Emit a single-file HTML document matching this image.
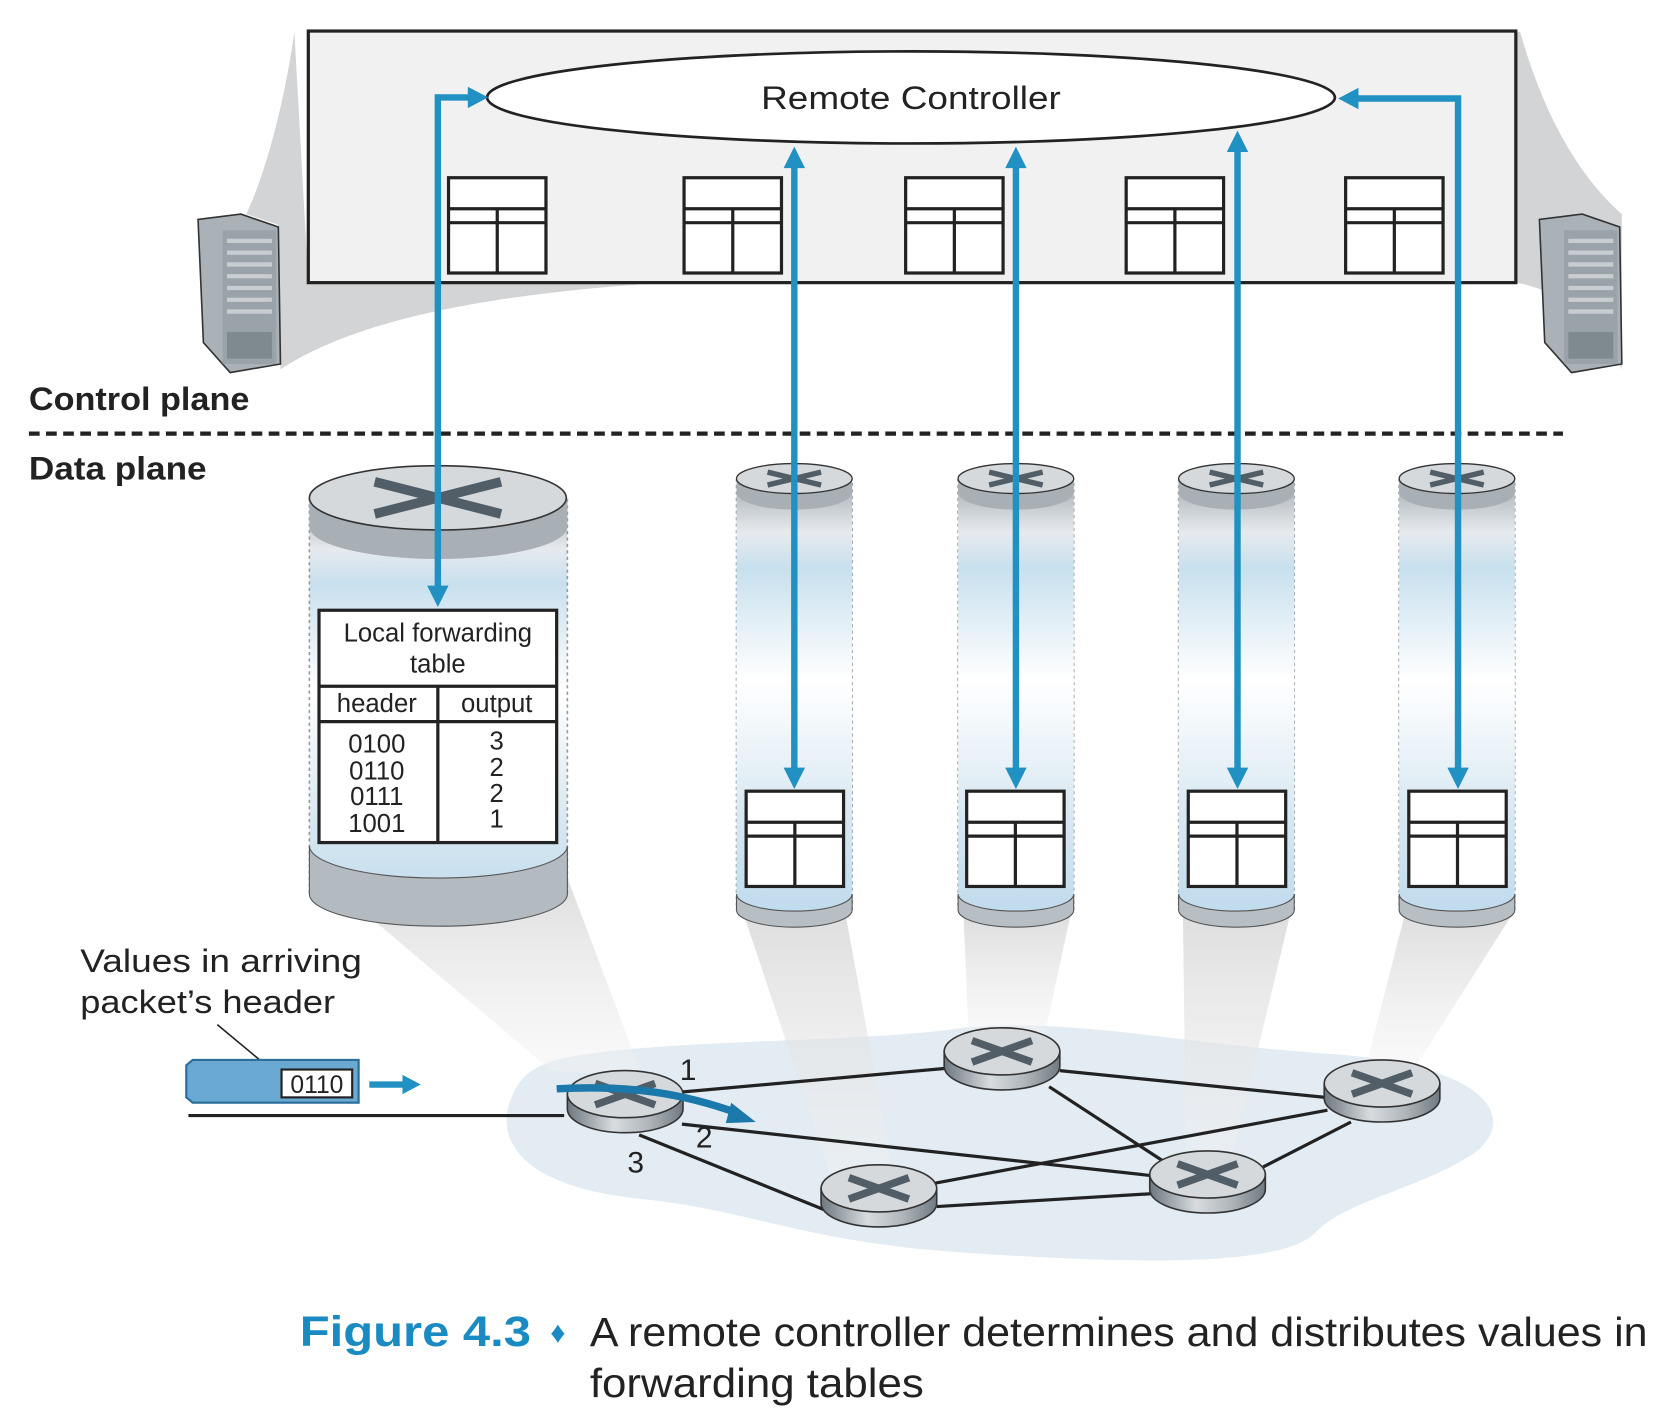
<!DOCTYPE html>
<html><head><meta charset="utf-8"><style>html,body{margin:0;padding:0;background:#fff}svg{display:block}text{font-family:"Liberation Sans",sans-serif}</style></head><body>
<svg width="1670" height="1410" viewBox="0 0 1560 1317" preserveAspectRatio="none" xmlns="http://www.w3.org/2000/svg">
<defs>
<linearGradient id="side" x1="0" x2="1" y1="0" y2="0"><stop offset="0" stop-color="#6e7880"/><stop offset=".4" stop-color="#d8dcdf"/><stop offset=".7" stop-color="#b0b6bb"/><stop offset="1" stop-color="#707a82"/></linearGradient>
<linearGradient id="cyl" x1="0" x2="0" y1="0" y2="1"><stop offset="0" stop-color="#a4abb1"/><stop offset=".12" stop-color="#e6eaee"/><stop offset=".2" stop-color="#c8e0ee"/><stop offset=".45" stop-color="#ffffff"/><stop offset=".75" stop-color="#d8e8f2"/><stop offset="1" stop-color="#bcd9ec"/></linearGradient>
<linearGradient id="beam" x1="0" x2="0" y1="0" y2="1"><stop offset="0" stop-color="#d6d6d6"/><stop offset="1" stop-color="#f2f2f2" stop-opacity=".5"/></linearGradient>
<g id="rt"><path d="M-54,0 L-54,14 A54,22 0 0 0 54,14 L54,0 Z" fill="url(#side)" stroke="#333" stroke-width="1.5"/><ellipse cx="0" cy="0" rx="54" ry="22" fill="#d5d9dc" stroke="#333" stroke-width="1.5"/><g stroke="#515e67" stroke-width="7"><line x1="-28" y1="-10" x2="28" y2="10"/><line x1="-28" y1="10" x2="28" y2="-10"/></g></g>
<g id="tb"><rect x="0" y="0" width="91" height="89" fill="#fff" stroke="#222" stroke-width="3"/><line x1="0" y1="29" x2="91" y2="29" stroke="#222" stroke-width="3"/><line x1="0" y1="42" x2="91" y2="42" stroke="#222" stroke-width="3"/><line x1="45.5" y1="29" x2="45.5" y2="89" stroke="#222" stroke-width="3"/></g>
<g id="sc"><path d="M-54,447 L-54,850 M54,850 L54,447" fill="none" stroke="#999" stroke-width="1.5" stroke-dasharray="3,3"/><path d="M-54,447 L-54,850 A54,16 0 0 0 54,850 L54,447 Z" fill="url(#cyl)"/><path d="M-54,835 L-54,850 A54,16 0 0 0 54,850 L54,835 A54,16 0 0 1 -54,835Z" fill="#b8bfc4" stroke="#555" stroke-width="1"/><path d="M-54,447 L-54,460 A54,16 0 0 0 54,460 L54,447Z" fill="#a8b0b6"/><ellipse cx="0" cy="447" rx="54" ry="14" fill="#d5d9dc" stroke="#333" stroke-width="1.2"/><g stroke="#515e67" stroke-width="5"><line x1="-25" y1="441" x2="25" y2="453"/><line x1="-25" y1="453" x2="25" y2="441"/></g></g>
</defs>
<path d="M275,30 C262,120 240,180 230,200 L260,210 L262,345 C330,300 450,275 620,264 L288,264 Z" fill="#d3d4d6"/>
<path d="M288,264 L1416,264 C1450,270 1490,290 1515,345 L1515,200 C1470,160 1440,100 1420,30 L1416,30 Z" fill="#d3d4d6"/>
<rect x="288" y="29" width="1128" height="235" fill="#f1f1f1" stroke="#222" stroke-width="3"/>
<g><path d="M185,205 L225,200 L260,212 L262,340 L215,348 L190,320 Z" fill="#aab2b8" stroke="#333" stroke-width="1.5"/><rect x="208" y="215" width="50" height="125" fill="#9aa3aa"/><rect x="212" y="310" width="42" height="25" fill="#7f8990"/><g stroke="#c8cdd1" stroke-width="4"><line x1="212" y1="225" x2="254" y2="225"/><line x1="212" y1="236" x2="254" y2="236"/><line x1="212" y1="247" x2="254" y2="247"/><line x1="212" y1="258" x2="254" y2="258"/><line x1="212" y1="269" x2="254" y2="269"/><line x1="212" y1="280" x2="254" y2="280"/><line x1="212" y1="291" x2="254" y2="291"/></g></g>
<g transform="translate(1253,0)"><path d="M185,205 L225,200 L260,212 L262,340 L215,348 L190,320 Z" fill="#aab2b8" stroke="#333" stroke-width="1.5"/><rect x="208" y="215" width="50" height="125" fill="#9aa3aa"/><rect x="212" y="310" width="42" height="25" fill="#7f8990"/><g stroke="#c8cdd1" stroke-width="4"><line x1="212" y1="225" x2="254" y2="225"/><line x1="212" y1="236" x2="254" y2="236"/><line x1="212" y1="247" x2="254" y2="247"/><line x1="212" y1="258" x2="254" y2="258"/><line x1="212" y1="269" x2="254" y2="269"/><line x1="212" y1="280" x2="254" y2="280"/><line x1="212" y1="291" x2="254" y2="291"/></g></g>
<ellipse cx="851" cy="91" rx="396" ry="43" fill="#fff" stroke="#222" stroke-width="2.5"/>
<text x="851" y="102" font-size="30" text-anchor="middle" fill="#222" textLength="280" lengthAdjust="spacingAndGlyphs">Remote Controller</text>
<use href="#tb" x="419" y="166"/><use href="#tb" x="639" y="166"/><use href="#tb" x="846" y="166"/><use href="#tb" x="1052" y="166"/><use href="#tb" x="1257" y="166"/>
<text x="27" y="383" font-size="30" font-weight="bold" fill="#222" textLength="206" lengthAdjust="spacingAndGlyphs">Control plane</text>
<line x1="27" y1="405" x2="1460" y2="405" stroke="#222" stroke-width="4" stroke-dasharray="10,6"/>
<text x="27" y="448" font-size="30" font-weight="bold" fill="#222" textLength="166" lengthAdjust="spacingAndGlyphs">Data plane</text>
<path d="M520,990 C600,970 800,975 900,960 C1000,950 1100,975 1250,985 C1380,995 1420,1040 1380,1075 C1330,1110 1260,1120 1230,1150 C1200,1185 1050,1180 900,1170 C750,1160 700,1130 600,1120 C480,1108 460,1060 480,1020 C490,1000 505,995 520,990Z" fill="#e4ecf3"/>
<path d="M320,835 L530,820 L600,1005 L515,1000 Z" fill="url(#beam)" opacity=".8"/>
<path d="M695,855 L790,855 L835,1100 L775,1095 Z" fill="url(#beam)" opacity=".8"/>
<path d="M900,855 L1000,855 L975,970 L905,968 Z" fill="url(#beam)" opacity=".8"/>
<path d="M1105,855 L1205,855 L1150,1085 L1108,1085 Z" fill="url(#beam)" opacity=".8"/>
<path d="M1312,855 L1412,855 L1320,1000 L1275,1000 Z" fill="url(#beam)" opacity=".8"/>
<path d="M289,465 L289,835 A120,30 0 0 0 530,835 L530,465 Z" fill="url(#cyl)"/>
<path d="M289,465 L289,835 M530,835 L530,465" stroke="#999" stroke-width="1.5" stroke-dasharray="3,3"/>
<path d="M289,790 L289,835 A120,30 0 0 0 530,835 L530,790 A120,30 0 0 1 289,790Z" fill="#b3bac0" stroke="#555" stroke-width="1"/>
<path d="M289,465 L289,492 A120,30 0 0 0 530,492 L530,465Z" fill="#a8b0b6"/>
<ellipse cx="409" cy="465" rx="120" ry="30" fill="#d5d9dc" stroke="#333" stroke-width="1.5"/>
<g stroke="#515e67" stroke-width="9"><line x1="350" y1="450" x2="468" y2="480"/><line x1="350" y1="480" x2="468" y2="450"/></g>
<use href="#sc" x="742"/><use href="#sc" x="949"/><use href="#sc" x="1155"/><use href="#sc" x="1361"/>
<rect x="298" y="570" width="222" height="217" fill="#fff" stroke="#222" stroke-width="3"/>
<line x1="298" y1="641" x2="520" y2="641" stroke="#222" stroke-width="3"/><line x1="298" y1="674" x2="520" y2="674" stroke="#222" stroke-width="3"/><line x1="409" y1="641" x2="409" y2="787" stroke="#222" stroke-width="3"/>
<g font-size="24" fill="#222" text-anchor="middle"><text x="409" y="599">Local forwarding</text><text x="409" y="628">table</text><text x="352" y="665">header</text><text x="464" y="665">output</text>
<text x="352" y="703">0100</text><text x="352" y="728">0110</text><text x="352" y="752">0111</text><text x="352" y="777">1001</text>
<text x="464" y="700">3</text><text x="464" y="725">2</text><text x="464" y="749">2</text><text x="464" y="773">1</text></g>
<use href="#tb" x="697" y="739"/><use href="#tb" x="903" y="739"/><use href="#tb" x="1110" y="739"/><use href="#tb" x="1316" y="739"/>
<g stroke="#2190c2" stroke-width="6" fill="none"><polyline points="409,550 409,91 440,91"/><polyline points="1362,720 1362,92 1266,92"/><line x1="742" y1="152" x2="742" y2="720"/><line x1="949" y1="152" x2="949" y2="720"/><line x1="1156" y1="137" x2="1156" y2="720"/></g>
<g fill="#2190c2"><path d="M456,91 L437,81 L437,101Z"/><path d="M1250,92 L1269,82 L1269,102Z"/><path d="M409,567 L399,547 L419,547Z"/><path d="M1362,737 L1352,717 L1372,717Z"/>
<path d="M742,137 L732,157 L752,157Z"/><path d="M742,737 L732,717 L752,717Z"/><path d="M949,137 L939,157 L959,157Z"/><path d="M949,737 L939,717 L959,717Z"/><path d="M1156,122 L1146,142 L1166,142Z"/><path d="M1156,737 L1146,717 L1166,717Z"/></g>
<g stroke="#222" stroke-width="3"><line x1="176" y1="1042" x2="527" y2="1042"/><line x1="637" y1="1020" x2="882" y2="998"/><line x1="637" y1="1050" x2="1075" y2="1098"/><line x1="597" y1="1060" x2="770" y2="1130"/><line x1="990" y1="1000" x2="1238" y2="1025"/><line x1="980" y1="1015" x2="1095" y2="1090"/><line x1="1240" y1="1037" x2="874" y2="1105"/><line x1="1262" y1="1048" x2="1180" y2="1090"/><line x1="875" y1="1127" x2="1075" y2="1115"/></g>
<use href="#rt" x="584" y="1022"/><use href="#rt" x="936" y="982"/><use href="#rt" x="1291" y="1012"/><use href="#rt" x="821" y="1110"/><use href="#rt" x="1128" y="1097"/>
<path d="M520,1017 C590,1013 640,1022 690,1040" stroke="#1a78aa" stroke-width="7" fill="none"/><path d="M706,1048 L683,1030 L678,1049Z" fill="#1a78aa"/>
<g font-size="28" fill="#222"><text x="635" y="1009">1</text><text x="650" y="1072">2</text><text x="586" y="1095">3</text></g>
<text x="75" y="908" font-size="30" fill="#222" textLength="263" lengthAdjust="spacingAndGlyphs">Values in arriving</text><text x="75" y="946" font-size="30" fill="#222" textLength="238" lengthAdjust="spacingAndGlyphs">packet’s header</text>
<line x1="203" y1="957" x2="245" y2="992" stroke="#222" stroke-width="1.5"/>
<path d="M174,995 L180,990 L335,990 L335,1030 L180,1030 L174,1025Z" fill="#6aa9d1" stroke="#2a6e99" stroke-width="2"/>
<rect x="263" y="999" width="66" height="26" fill="#fff" stroke="#222" stroke-width="2"/>
<text x="296" y="1021" font-size="23" fill="#222" text-anchor="middle">0110</text>
<line x1="345" y1="1013" x2="378" y2="1013" stroke="#2190c2" stroke-width="6"/><path d="M393,1013 L376,1004 L376,1022Z" fill="#2190c2"/>
<text x="280" y="1257" font-size="40" font-weight="bold" fill="#1a8bc2" textLength="216" lengthAdjust="spacingAndGlyphs">Figure 4.3</text>
<text x="514" y="1254" font-size="28" fill="#1a8bc2">♦</text>
<text x="551" y="1257" font-size="38" fill="#222" textLength="988" lengthAdjust="spacingAndGlyphs">A remote controller determines and distributes values in</text>
<text x="551" y="1305" font-size="38" fill="#222" textLength="312" lengthAdjust="spacingAndGlyphs">forwarding tables</text>
</svg>
</body></html>
